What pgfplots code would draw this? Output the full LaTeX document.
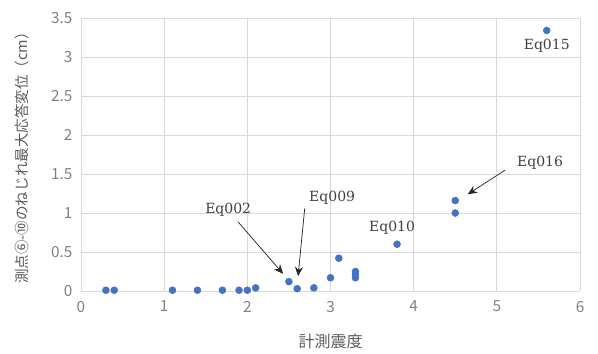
\documentclass[border=0pt]{standalone}
\usepackage{fontspec}
\setmainfont{Noto Sans CJK JP}
\newfontfamily\eqfont{DejaVu Serif}
\usepackage{pgfplots}
\pgfplotsset{compat=1.18}
\usetikzlibrary{arrows.meta}
\definecolor{ptblue}{RGB}{68,114,196}
\definecolor{gridgray}{RGB}{217,217,217}
\definecolor{ticktext}{RGB}{128,128,128}
\definecolor{labeltext}{RGB}{89,89,89}
\definecolor{anntext}{RGB}{64,64,64}
\begin{document}
\begin{tikzpicture}[x=1pt,y=1pt]
\begin{axis}[
  at={(0,0)}, anchor=south west,
  scale only axis,
  width=374.25pt, height=204.75pt,
  xmin=0, xmax=6, ymin=0, ymax=3.5,
  xtick={0,1,...,6},
  ytick={0,0.5,...,3.5},
  yticklabels={0,0.5,1,1.5,2,2.5,3,3.5},
  grid=major,
  major grid style={gridgray, line width=0.6pt},
  axis line style={draw=none},
  tick style={draw=none},
  /pgf/number format/assume math mode=true,
  ticklabel style={font=\fontsize{11.5}{13}\selectfont, text=ticktext},
  xticklabel style={yshift=-4pt},
  yticklabel style={xshift=-3pt},
  xlabel={計測震度},
  ylabel={測点⑥-⑩のねじれ最大応答変位（cm）},
  xlabel style={font=\fontsize{12}{14}\selectfont, text=labeltext, yshift=-9.5pt},
  ylabel style={font=\fontsize{10.9}{13}\selectfont, text=labeltext, yshift=10pt},
  clip=false,
]
\addplot[only marks, mark=*, mark size=2.6pt, mark options={fill=ptblue, draw=ptblue}]
  coordinates {
    (0.3,0.01) (0.4,0.01) (1.1,0.01) (1.4,0.01) (1.7,0.01)
    (1.9,0.01) (2.0,0.01) (2.1,0.04) (2.5,0.12) (2.6,0.03)
    (2.8,0.04) (3.0,0.17) (3.1,0.42) (3.3,0.25) (3.3,0.21)
    (3.3,0.17) (3.8,0.60) (4.5,1.16) (4.5,1.00) (5.6,3.34)
  };
\begin{scope}[every node/.style={font=\eqfont\fontsize{10.5}{12}\selectfont, text=anntext}]
  \node at (axis cs:1.77,1.04) {Eq002};
  \node at (axis cs:3.02,1.19) {Eq009};
  \node at (axis cs:3.74,0.81) {Eq010};
  \node at (axis cs:5.60,3.14) {Eq015};
  \node at (axis cs:5.52,1.64) {Eq016};
\end{scope}
\begin{scope}[line width=0.55pt, draw=black!85, -{Stealth[length=7pt,width=6pt]}]
  \draw (axis cs:1.89,0.885) -- (axis cs:2.43,0.22);
  \draw (axis cs:2.69,1.06) -- (axis cs:2.61,0.19);
  \draw (axis cs:5.10,1.55) -- (axis cs:4.65,1.24);
\end{scope}
\end{axis}
\path (-60.75pt,-46.5pt) rectangle (387.75pt,218.25pt);
\end{tikzpicture}
\end{document}
